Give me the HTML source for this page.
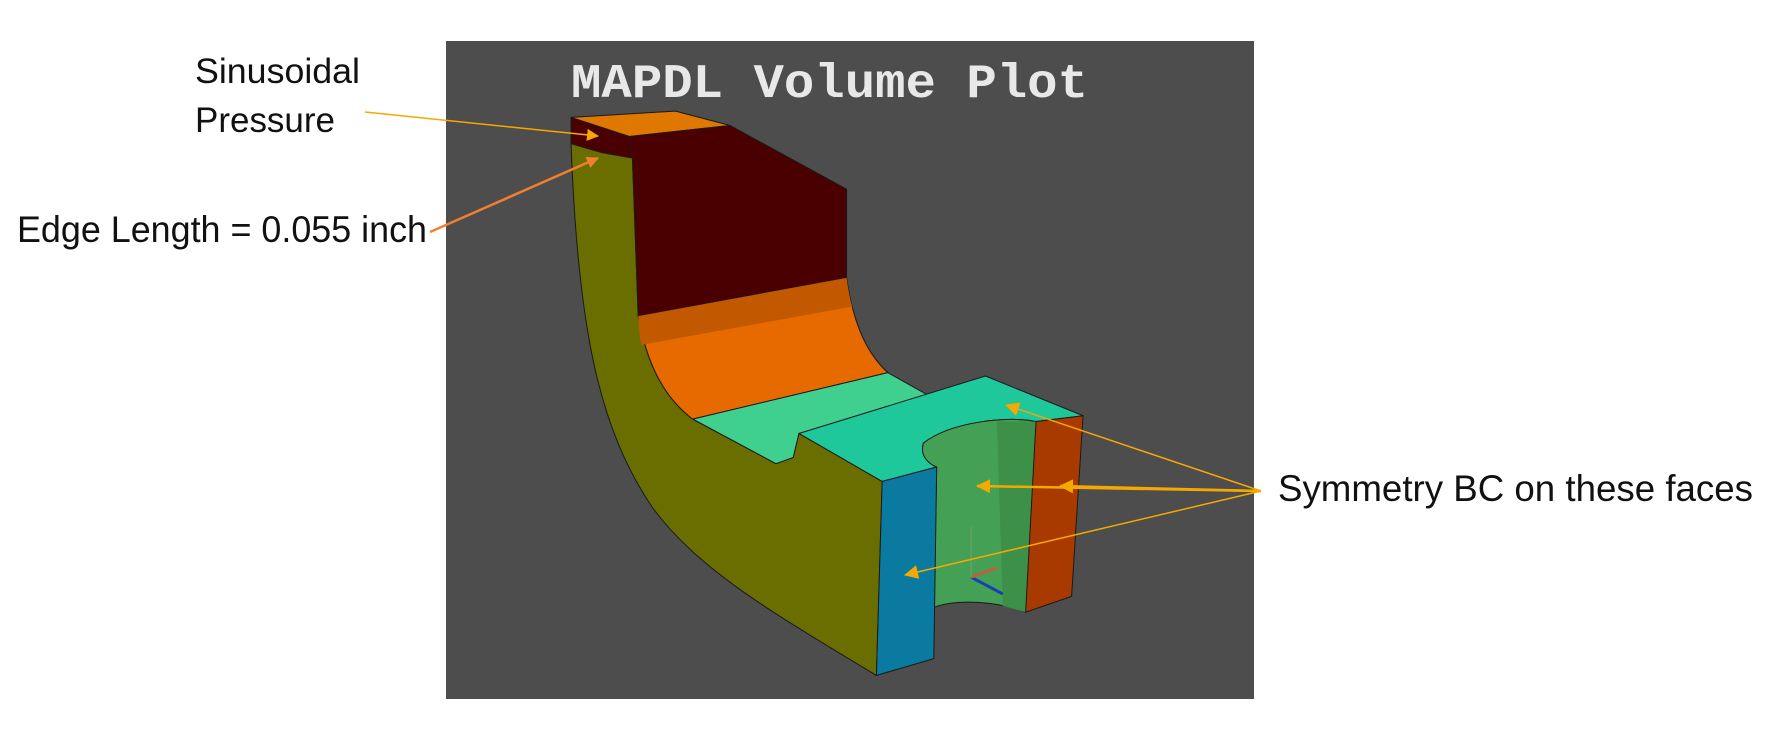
<!DOCTYPE html>
<html><head><meta charset="utf-8"><style>
html,body{margin:0;padding:0;background:#fff;}
svg{display:block;}
</style></head><body>
<svg width="1777" height="747" viewBox="0 0 1777 747" xmlns="http://www.w3.org/2000/svg">
<defs>
<marker id="ahY" markerWidth="12" markerHeight="12" refX="11" refY="6" orient="auto" markerUnits="userSpaceOnUse"><path d="M0,0 L12,6 L0,12 Z" fill="#f5a800"/></marker>
<marker id="ahO" markerWidth="12" markerHeight="12" refX="11" refY="6" orient="auto" markerUnits="userSpaceOnUse"><path d="M0,0 L12,6 L0,12 Z" fill="#f08030"/></marker>
<marker id="ahS" markerWidth="14" markerHeight="14" refX="13" refY="7" orient="auto" markerUnits="userSpaceOnUse"><path d="M0,0 L14,7 L0,14 Z" fill="#f5a800"/></marker>
</defs>
<rect x="446" y="41" width="808" height="658" fill="#4d4d4d"/>
<text x="571" y="97" font-family="Liberation Mono, monospace" font-weight="bold" font-size="48" fill="#e8e8e8" textLength="517" lengthAdjust="spacingAndGlyphs">MAPDL Volume Plot</text>

<g transform="translate(400,0) scale(0.574,0.479)" stroke="#1a1a1a" stroke-width="1" stroke-linejoin="round">
  <path d="M298,300 L350,318 L405,330 L415,660 C430,760 460,830 510,875 L655,968 L685,955 L695,905 L840,1005 L830,1410 C650,1280 520,1190 440,1060 C350,900 310,700 298,300 Z" fill="#6a6e00" vector-effect="non-scaling-stroke"/>
  <path d="M298,245 L400,285 L405,330 L350,318 L298,300 Z" fill="#4a0000" vector-effect="non-scaling-stroke"/>
  <path d="M298,245 L480,232 L575,262 L400,285 Z" fill="#e07800" vector-effect="non-scaling-stroke"/>
  <path d="M400,285 L575,262 L778,395 L778,580 L415,660 L405,330 Z" fill="#4a0000" vector-effect="non-scaling-stroke"/>
  <path d="M415,660 L778,580 C790,680 815,740 850,778 L510,875 C460,830 430,760 415,660 Z" fill="#e66a00" vector-effect="non-scaling-stroke"/>
  <path d="M415,660 L778,580 C781,605 784,625 788,640 L420,720 C417,700 416,680 415,660 Z" fill="#c25800" stroke="none"/>
  <path d="M510,875 L850,778 L920,825 L695,905 L685,955 L655,968 Z" fill="#3fcf8f" vector-effect="non-scaling-stroke"/>
  <path d="M695,905 L1020,785 L1190,868 L1108,880 C1060,868 960,880 912,925 C905,950 920,968 935,975 L840,1005 Z" fill="#1fc89b" vector-effect="non-scaling-stroke"/>
  <path d="M912,925 C960,880 1060,868 1108,880 L1090,1278 C1040,1255 970,1250 930,1268 L935,975 C920,968 905,950 912,925 Z" fill="#44a055" vector-effect="non-scaling-stroke"/>
  <path d="M1040,880 L1108,880 L1090,1278 L1050,1265 Z" fill="#3c9048" stroke="none"/>
  <path d="M840,1005 L935,975 L930,1375 L830,1410 Z" fill="#0a7aa0" vector-effect="non-scaling-stroke"/>
  <path d="M1108,880 L1190,868 L1170,1245 L1090,1278 Z" fill="#a83a00" vector-effect="non-scaling-stroke"/>
  <g>
    <line x1="995" y1="1205" x2="1050" y2="1240" stroke="#1840b0" stroke-width="3" vector-effect="non-scaling-stroke"/>
    <line x1="995" y1="1205" x2="1040" y2="1185" stroke="#c06040" stroke-width="3" vector-effect="non-scaling-stroke"/>
    <line x1="995" y1="1205" x2="995" y2="1100" stroke="#60a060" stroke-width="2" vector-effect="non-scaling-stroke"/>
  </g>
</g>

<g font-family="Liberation Sans, sans-serif" fill="#111">
  <text x="195" y="83" font-size="35" textLength="165" lengthAdjust="spacingAndGlyphs">Sinusoidal</text>
  <text x="195" y="132" font-size="35" textLength="140" lengthAdjust="spacingAndGlyphs">Pressure</text>
  <text x="17" y="242" font-size="37" textLength="410" lengthAdjust="spacingAndGlyphs">Edge Length = 0.055 inch</text>
  <text x="1278" y="501" font-size="37" textLength="475" lengthAdjust="spacingAndGlyphs">Symmetry BC on these faces</text>
</g>

<line x1="365" y1="112" x2="598" y2="136" stroke="#f5a800" stroke-width="1.5" marker-end="url(#ahY)"/>
<line x1="430" y1="232" x2="598" y2="158" stroke="#f08030" stroke-width="2.5" marker-end="url(#ahO)"/>
<g stroke="#f5a800">
  <line x1="1261" y1="491" x2="1006" y2="405" stroke-width="1.5" marker-end="url(#ahS)"/>
  <line x1="1261" y1="491" x2="977" y2="486" stroke-width="2.5" marker-end="url(#ahS)"/>
  <line x1="1261" y1="491" x2="1060" y2="486" stroke-width="2.5" marker-end="url(#ahS)"/>
  <line x1="1261" y1="491" x2="905" y2="575" stroke-width="1.5" marker-end="url(#ahS)"/>
</g>
</svg>
</body></html>
